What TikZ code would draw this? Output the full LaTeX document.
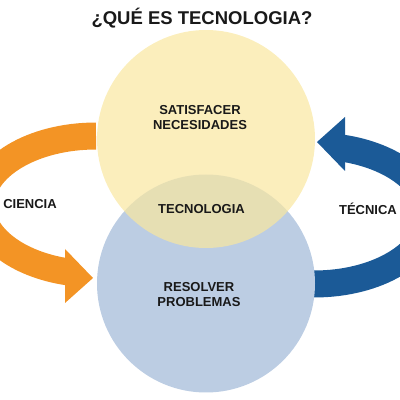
\documentclass[tikz,border=0pt]{standalone}
\usepackage{fontspec}
\setmainfont{Liberation Sans}
\usetikzlibrary{positioning}
\definecolor{naranja}{HTML}{F39425}
\definecolor{azul}{HTML}{1B5A97}
\definecolor{amarillo}{HTML}{F9E7A0}
\definecolor{celeste}{HTML}{BCCDE3}

\begin{document}
\begin{tikzpicture}[x=1pt, y=1pt,
	circulo/.style={circle, minimum size=218pt, inner sep=0pt},
	etiqueta/.style={font=\fontsize{13}{15}\selectfont\bfseries, align=center, text=black!90},
	flecha/.pic={
		\draw[#1, line width=27pt] (-109,74) arc[start angle=90, end angle=256, x radius=115, y radius=69];
		\fill[#1] (-140,-39) -- (-112,-68) -- (-140,-93) -- cycle;
	}]
	\useasboundingbox (0,0) rectangle (400,400);
	% flechas del ciclo
	\pic at (205,190) {flecha=naranja};
	\pic[rotate=180] at (205,190) {flecha=azul};
	% circulos
	\node[circulo, fill=celeste] (resolver) at (206,116.5) {};
	\node[circulo, fill=amarillo, fill opacity=0.7] (satisfacer) at (206,261) {};
	\node[font=\fontsize{18.5}{22}\selectfont\bfseries, anchor=base, text=black!90] (titulo) at (202,375) {¿QUÉ ES TECNOLOGIA?};
	\node[etiqueta] (necesidades) at (200,282) {SATISFACER\\NECESIDADES};
	\node[etiqueta] (tecnologia) at (201.5,191) {TECNOLOGIA};
	\node[etiqueta] (problemas) at (199,105) {RESOLVER\\PROBLEMAS};
	\node[etiqueta] (ciencia) at (30,196) {CIENCIA};
	\node[etiqueta] (tecnica) at (368,191.5) {TÉCNICA};
\end{tikzpicture}
\end{document}
